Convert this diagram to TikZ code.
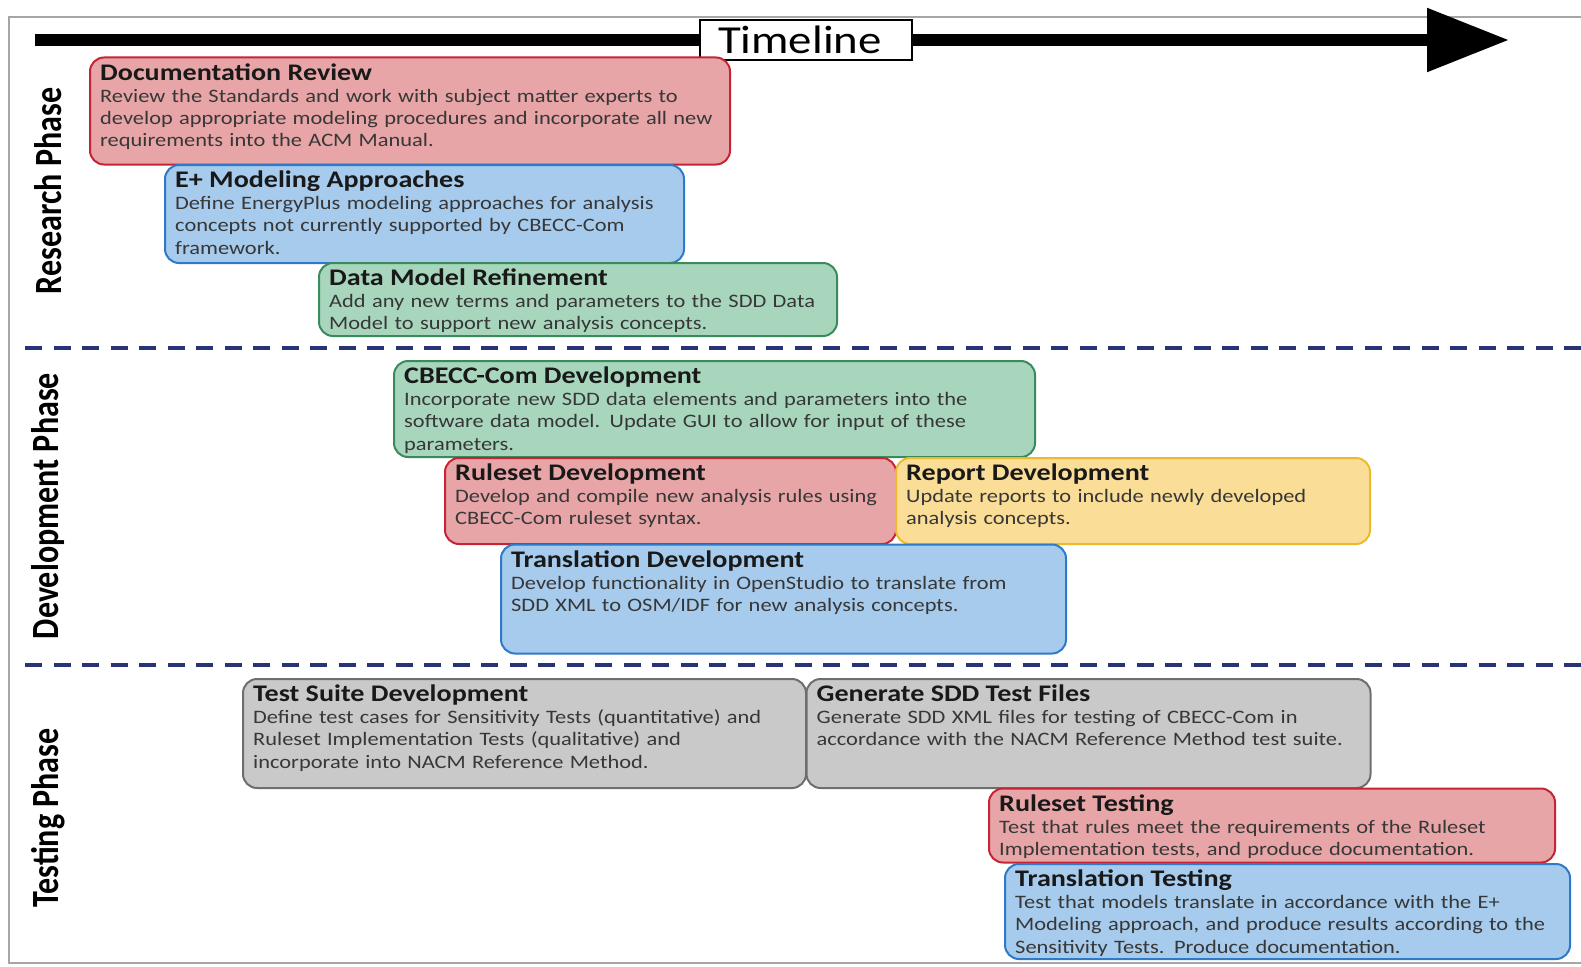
\documentclass[tikz,border=0pt]{standalone}
\usepackage{fontspec}
\setmainfont{Carlito}[FakeStretch=1.18]
\newfontfamily\phasefont{Carlito}[FakeStretch=0.833]
\usetikzlibrary{arrows.meta,positioning}

\definecolor{redfill}{RGB}{232,165,167}
\definecolor{redline}{RGB}{196,36,52}
\definecolor{bluefill}{RGB}{166,203,236}
\definecolor{blueline}{RGB}{46,122,200}
\definecolor{greenfill}{RGB}{168,214,188}
\definecolor{greenline}{RGB}{58,138,92}
\definecolor{yellowfill}{RGB}{250,221,150}
\definecolor{yellowline}{RGB}{236,186,44}
\definecolor{grayfill}{RGB}{201,201,201}
\definecolor{grayline}{RGB}{110,110,110}
\definecolor{navyline}{RGB}{40,52,118}
\definecolor{bodytext}{RGB}{55,55,55}

\begin{document}
\begin{tikzpicture}[x=1pt, y=-1pt,
    task/.style={rectangle, rounded corners=14pt, line width=2pt, anchor=north west, inner sep=0pt},
    redtask/.style={task, draw=redline, fill=redfill},
    bluetask/.style={task, draw=blueline, fill=bluefill},
    greentask/.style={task, draw=greenline, fill=greenfill},
    yellowtask/.style={task, draw=yellowline, fill=yellowfill},
    graytask/.style={task, draw=grayline, fill=grayfill},
    tasktext/.style={anchor=base west, inner sep=0pt, xshift=11pt, yshift=-23.5pt, text width=650pt, align=left,
    text=bodytext, font=\fontsize{19}{22.2}\selectfont},
    phase/.style={rotate=90, inner sep=0pt, font=\phasefont\fontsize{38.5}{40}\selectfont\bfseries},
    phaseline/.style={draw=navyline, line width=4pt, dash pattern=on 17pt off 11.5pt}]

    \useasboundingbox (0,0) rectangle (1581,966);
    \draw[gray!70, line width=1.5pt] (9,17) rectangle (1600,963);

    % timeline
    \coordinate (tlstart) at (35,40);
    \coordinate (tlend) at (1509,40);
    \draw[line width=12pt, -{Triangle[length=82pt, width=61pt]}] (tlstart) -- (tlend);
    \node (timeline) [draw, line width=2pt, fill=white, inner xsep=18pt, text width=176pt, align=left,
    minimum height=40pt, font=\fontsize{39.7}{40}\selectfont] at (806,40) {Timeline};

    % phase separators
    \coordinate (sep1a) at (25,348);
    \coordinate (sep1b) at (1581,348);
    \coordinate (sep2a) at (25,665);
    \coordinate (sep2b) at (1581,665);
    \draw[phaseline] (sep1a) -- (sep1b);
    \draw[phaseline] (sep2a) -- (sep2b);

    \node (research) [phase] at (48,191) {Research Phase};
    \node (development) [phase] at (48,506) {Development Phase};
    \node (testing) [phase] at (48,818) {Testing Phase};

    % research phase
    \node (docrev) [redtask, minimum width=640pt, minimum height=107pt] at (89,56.5) {};
    \node (docrevtext) [tasktext] at (docrev.north west) {{\fontsize{23.8}{22.2}\selectfont\bfseries\color{black!90}Documentation Review}\\
    Review the Standards and work with subject matter experts to\\
    develop appropriate modeling procedures and incorporate all new\\
    requirements into the ACM Manual.};

    \node (eplus) [bluetask, minimum width=519pt, minimum height=98pt] at (164,164) {};
    \node (eplustext) [tasktext] at (eplus.north west) {{\fontsize{23.8}{22.2}\selectfont\bfseries\color{black!90}E+ Modeling Approaches}\\
    Define EnergyPlus modeling approaches for analysis\\
    concepts not currently supported by CBECC-Com\\
    framework.};

    \node (datamodel) [greentask, minimum width=518pt, minimum height=73pt] at (318,262) {};
    \node (datamodeltext) [tasktext] at (datamodel.north west) {{\fontsize{23.8}{22.2}\selectfont\bfseries\color{black!90}Data Model Refinement}\\
    Add any new terms and parameters to the SDD Data\\
    Model to support new analysis concepts.};

    % development phase
    \node (cbecc) [greentask, minimum width=641pt, minimum height=96pt] at (393,360) {};
    \node (cbecctext) [tasktext] at (cbecc.north west) {{\fontsize{23.8}{22.2}\selectfont\bfseries\color{black!90}CBECC-Com Development}\\
    Incorporate new SDD data elements and parameters into the\\
    software data model.  Update GUI to allow for input of these\\
    parameters.};

    \node (ruledev) [redtask, minimum width=451pt, minimum height=86pt] at (444,457) {};
    \node (ruledevtext) [tasktext] at (ruledev.north west) {{\fontsize{23.8}{22.2}\selectfont\bfseries\color{black!90}Ruleset Development}\\
    Develop and compile new analysis rules using\\
    CBECC-Com ruleset syntax.};

    \node (reportdev) [yellowtask, minimum width=474pt, minimum height=86pt] at (895,457) {};
    \node (reportdevtext) [tasktext] at (reportdev.north west) {{\fontsize{23.8}{22.2}\selectfont\bfseries\color{black!90}Report Development}\\
    Update reports to include newly developed\\
    analysis concepts.};

    \node (transdev) [bluetask, minimum width=565pt, minimum height=109pt] at (500,543.5) {};
    \node (transdevtext) [tasktext] at (transdev.north west) {{\fontsize{23.8}{22.2}\selectfont\bfseries\color{black!90}Translation Development}\\
    Develop functionality in OpenStudio to translate from\\
    SDD XML to OSM/IDF for new analysis concepts.};

    % testing phase
    \node (testsuite) [graytask, minimum width=563pt, minimum height=109pt] at (242,678) {};
    \node (testsuitetext) [tasktext] at (testsuite.north west) {{\fontsize{23.8}{22.2}\selectfont\bfseries\color{black!90}Test Suite Development}\\
    Define test cases for Sensitivity Tests (quantitative) and\\
    Ruleset Implementation Tests (qualitative) and\\
    incorporate into NACM Reference Method.};

    \node (gensdd) [graytask, minimum width=564pt, minimum height=109pt] at (805.5,678) {};
    \node (gensddtext) [tasktext] at (gensdd.north west) {{\fontsize{23.8}{22.2}\selectfont\bfseries\color{black!90}Generate SDD Test Files}\\
    Generate SDD XML files for testing of CBECC-Com in\\
    accordance with the NACM Reference Method test suite.};

    \node (ruletest) [redtask, minimum width=566pt, minimum height=74pt] at (988,787.5) {};
    \node (ruletesttext) [tasktext] at (ruletest.north west) {{\fontsize{23.8}{22.2}\selectfont\bfseries\color{black!90}Ruleset Testing}\\
    Test that rules meet the requirements of the Ruleset\\
    Implementation tests, and produce documentation.};

    \node (transtest) [bluetask, minimum width=565pt, minimum height=95pt] at (1004,863) {};
    \node (transtesttext) [tasktext] at (transtest.north west) {{\fontsize{23.8}{22.2}\selectfont\bfseries\color{black!90}Translation Testing}\\
    Test that models translate in accordance with the E+\\
    Modeling approach, and produce results according to the\\
    Sensitivity Tests.  Produce documentation.};
\end{tikzpicture}
\end{document}
